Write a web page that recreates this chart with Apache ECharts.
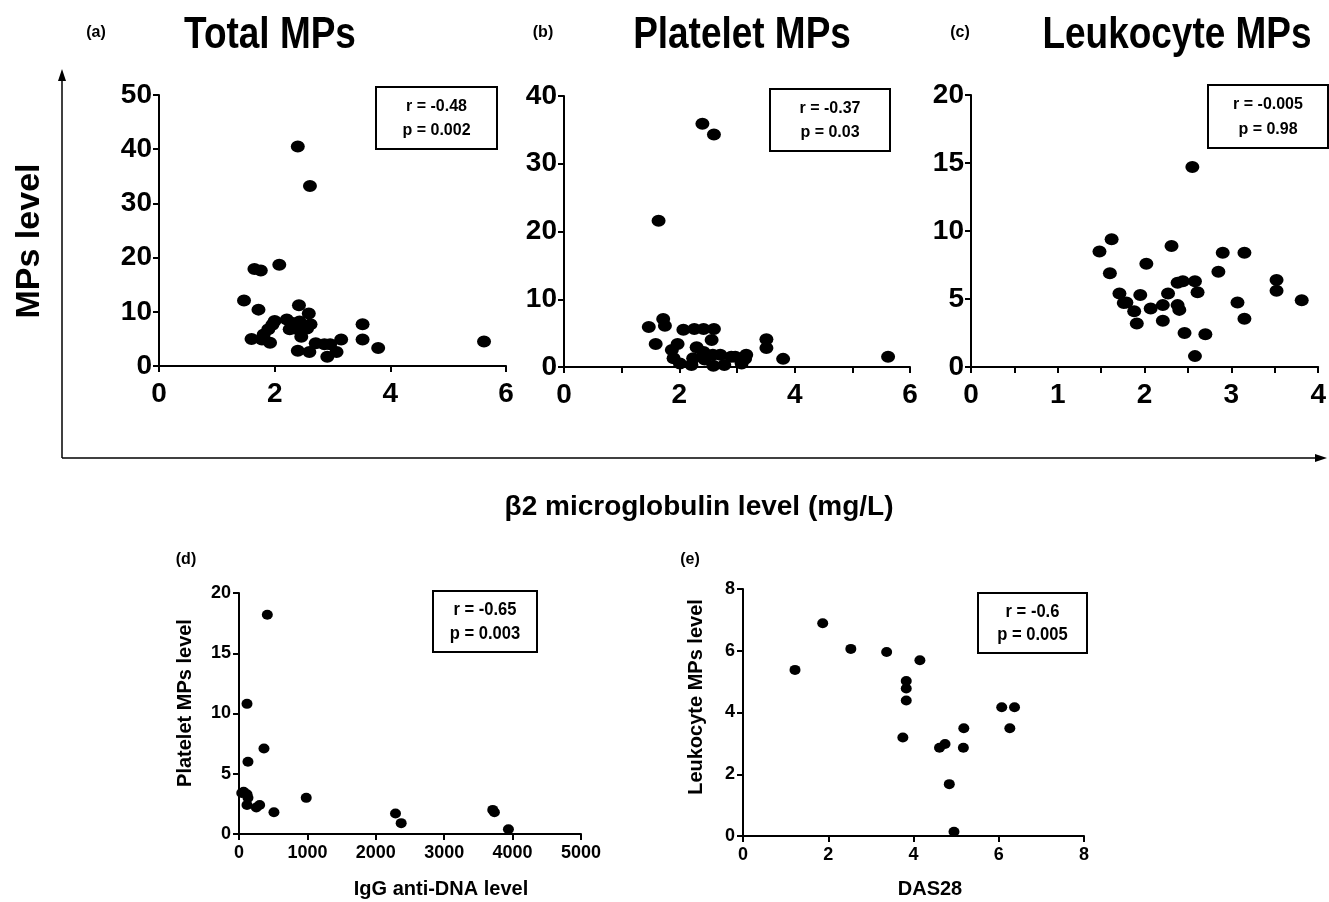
<!DOCTYPE html>
<html><head><meta charset="utf-8">
<script src="https://cdn.jsdelivr.net/npm/echarts@6/dist/echarts.min.js"></script>
<style>html,body{margin:0;padding:0;background:#fff}#c{width:1329px;height:902px}</style>
</head><body><div id="c"></div>
<script>
// (a) Total MPs vs beta2 microglobulin
const totalX = [2.40,2.61,1.65,1.76,2.08,1.47,1.72,2.42,2.59,2.21,2.00,2.29,2.43,2.62,1.96,1.89,2.26,2.56,3.52,1.81,1.60,2.46,3.52,1.78,1.92,3.15,2.71,2.86,2.96,2.40,2.60,3.07,2.91,3.79,5.62,2.35];
const totalY = [40.5,33.2,17.9,17.6,18.7,12.1,10.4,11.2,9.7,8.6,8.3,8.0,8.2,7.7,7.6,6.8,6.8,6.9,7.7,5.8,5.0,5.4,4.9,4.9,4.3,4.9,4.2,4.0,4.0,2.8,2.6,2.6,1.7,3.3,4.5,6.9];
// (b) Platelet MPs vs beta2 microglobulin
const plateletX = [2.40,2.60,1.64,1.72,1.75,1.47,2.07,2.26,2.42,2.60,2.56,1.59,1.97,3.51,3.51,2.30,1.87,2.42,2.58,2.71,2.90,3.16,3.80,5.62,1.90,2.01,2.21,2.24,2.44,2.59,2.78,3.08,3.14,2.97];
const plateletY = [35.9,34.3,21.6,7.1,6.1,5.9,5.5,5.6,5.6,5.6,4.0,3.4,3.4,4.1,2.8,2.9,2.5,2.2,1.8,1.8,1.5,1.8,1.2,1.5,1.3,0.5,0.3,1.3,1.1,0.2,0.3,0.5,1.2,1.5];
// (c) Leukocyte MPs vs beta2 microglobulin
const leukoX = [2.55,1.48,1.62,1.60,2.31,2.02,2.90,3.15,2.85,1.71,1.76,1.79,1.95,2.27,2.38,2.44,2.58,2.61,1.88,1.91,2.07,2.21,2.21,2.38,2.40,2.46,2.70,2.58,3.07,3.15,3.52,3.52,3.81];
const leukoY = [14.7,8.5,9.4,6.9,8.9,7.6,8.4,8.4,7.0,5.4,4.7,4.75,5.3,5.4,6.2,6.3,6.3,5.5,4.1,3.2,4.3,4.55,3.4,4.55,4.2,2.5,2.4,0.8,4.75,3.55,6.4,5.6,4.9];
// (d) Platelet MPs vs IgG anti-DNA
const dnaX = [414,117,365,131,68,117,131,117,253,302,511,983,2288,2371,3710,3734,3939,40];
const dnaY = [18.2,10.8,7.1,6.0,3.5,3.3,3.0,2.4,2.2,2.4,1.8,3.0,1.7,0.9,2.0,1.8,0.4,3.4];
// (e) Leukocyte MPs vs DAS28
const dasX = [1.22,1.87,2.53,3.37,4.15,3.83,3.83,3.83,3.75,4.61,4.74,5.18,5.17,4.84,4.95,6.07,6.37,6.26];
const dasY = [5.38,6.89,6.06,5.96,5.69,5.02,4.78,4.39,3.19,2.86,2.98,3.49,2.86,1.68,0.14,4.17,4.17,3.49];

const titles = ['Total MPs','Platelet MPs','Leukocyte MPs'];
const panelTags = ['(a)','(b)','(c)','(d)','(e)'];
const stats = [['r = -0.48','p = 0.002'],['r = -0.37','p = 0.03'],['r = -0.005','p = 0.98'],['r = -0.65','p = 0.003'],['r = -0.6','p = 0.005']];
const topXName = '\u03b22 microglobulin level (mg/L)';
const topYName = 'MPs level';
const dXName = 'IgG anti-DNA level', dYName = 'Platelet MPs level';
const eXName = 'DAS28', eYName = 'Leukocyte MPs level';

const SANS = "'Liberation Sans',Arial,sans-serif";
const zip = (a,b) => a.map((v,i)=>[v,b[i]]);

const chart = echarts.init(document.getElementById('c'), null, {renderer:'canvas'});

function ax(gi, max, interval, opts) {
  opts = opts || {};
  return {
    type:'value', gridIndex:gi, min:0, max:max, interval:interval,
    axisLine:{show:true, onZero:false, lineStyle:{color:'#000', width:2}},
    axisTick:{show:true, inside:false, length:opts.tickLen||6, lineStyle:{color:'#000', width:2}},
    splitLine:{show:false},
    axisLabel:{color:'#000', fontWeight:'bold', fontFamily:SANS, fontSize:opts.fs||28, margin:opts.margin||10,
      formatter: opts.fmt || (v=>String(v))}
  };
}
const evenOnly = v => (Math.abs(v % 2) < 1e-9 ? String(v) : '');
const intOnly = v => (Math.abs(v - Math.round(v)) < 1e-9 ? String(Math.round(v)) : '');

const grids = [
  {left:159, top:95, width:347, height:271},
  {left:564, top:96, width:346, height:271},
  {left:971, top:95, width:351, height:272},
  {left:239, top:593, width:342, height:241},
  {left:743, top:589, width:341, height:247}
];

const xAxes = [
  ax(0, 6, 2, {margin:14}),
  ax(1, 6, 1, {margin:14, fmt:evenOnly}),
  ax(2, 4, 0.5, {margin:14, fmt:intOnly}),
  ax(3, 5000, 1000, {fs:18, margin:10}),
  ax(4, 8, 2, {fs:18, margin:10})
];
const yAxes = [
  ax(0, 50, 10, {margin:7}),
  ax(1, 40, 10, {margin:7}),
  ax(2, 20, 5, {margin:7}),
  ax(3, 20, 5, {fs:18, margin:8}),
  ax(4, 8, 2, {fs:18, margin:8})
];

function sc(i, data, size) {
  return {type:'scatter', xAxisIndex:i, yAxisIndex:i, data:data, symbol:'circle', symbolSize:size,
    itemStyle:{color:'#000', opacity:1}, emphasis:{disabled:true}, silent:true};
}
const series = [
  sc(0, zip(totalX,totalY), [14,12]),
  sc(1, zip(plateletX,plateletY), [14,12]),
  sc(2, zip(leukoX,leukoY), [14,12]),
  sc(3, zip(dnaX,dnaY), [11,10]),
  sc(4, zip(dasX,dasY), [11,10])
];

function txt(x, y, s, size, extra) {
  return Object.assign({type:'text', x:x, y:y, style:{text:s, fill:'#000', font:'bold '+size+'px '+SANS, textAlign:'center', textVerticalAlign:'middle'}}, extra||{});
}
function box(x, y, w, h, lines, fs, sx) {
  return [
    {type:'rect', shape:{x:x, y:y, width:w, height:h}, style:{fill:'#fff', stroke:'#000', lineWidth:2}, z:10},
    txt(x+w/2, y+h*0.31, lines[0], fs, {z:11, scaleX:sx}),
    txt(x+w/2, y+h*0.70, lines[1], fs, {z:11, scaleX:sx})
  ];
}

const graphic = [
  // big arrows
  {type:'line', shape:{x1:62, y1:458, x2:62, y2:80}, style:{stroke:'#000', lineWidth:1.5}},
  {type:'polygon', shape:{points:[[62,69],[58,81],[66,81]]}, style:{fill:'#000'}},
  {type:'line', shape:{x1:62, y1:458, x2:1316, y2:458}, style:{stroke:'#000', lineWidth:1.5}},
  {type:'polygon', shape:{points:[[1327,458],[1315,454],[1315,462]]}, style:{fill:'#000'}},
  // titles and tags
  txt(270, 36, titles[0], 44, {scaleX:0.84}),
  txt(742, 36, titles[1], 44, {scaleX:0.84}),
  txt(1177, 36, titles[2], 44, {scaleX:0.84}),
  txt(96, 33, panelTags[0], 16),
  txt(543, 33, panelTags[1], 16),
  txt(960, 33, panelTags[2], 16),
  txt(186, 560, panelTags[3], 16),
  txt(690, 560, panelTags[4], 16),
  // axis names
  txt(30, 241, topYName, 34, {rotation:Math.PI/2}),
  txt(699, 507, topXName, 28),
  txt(185, 703, dYName, 20, {rotation:Math.PI/2}),
  txt(441, 889, dXName, 20),
  txt(696, 697, eYName, 20, {rotation:Math.PI/2}),
  txt(930, 889, eXName, 20)
].concat(
  box(376, 87, 121, 62, stats[0], 16, 1),
  box(770, 89, 120, 62, stats[1], 16, 1),
  box(1208, 85, 120, 63, stats[2], 16, 1),
  box(433, 591, 104, 61, stats[3], 18, 0.92),
  box(978, 593, 109, 60, stats[4], 18, 0.92)
);

chart.setOption({
  animation:false,
  backgroundColor:'#fff',
  grid:grids,
  xAxis:xAxes,
  yAxis:yAxes,
  series:series,
  graphic:graphic
});
</script></body></html>
